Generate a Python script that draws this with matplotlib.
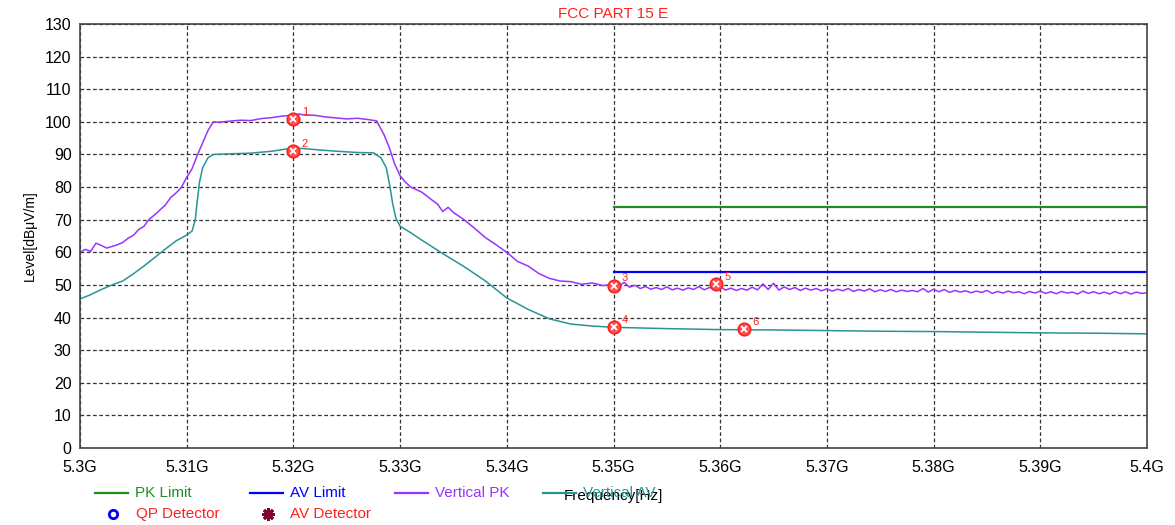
import matplotlib
matplotlib.use("Agg")
import matplotlib.pyplot as plt
import numpy as np
from matplotlib.lines import Line2D

plt.rcParams['font.family'] = ['Liberation Sans', 'DejaVu Sans']

############################ data ############################
pk_freq = [5.3000, 5.3005, 5.3010, 5.3015, 5.3020, 5.3025, 5.3030, 5.3035, 5.3040, 5.3045,
           5.3050, 5.3055, 5.3060, 5.3065, 5.3070, 5.3075, 5.3080, 5.3085, 5.3090, 5.3095,
           5.3100, 5.3105, 5.3110, 5.3115, 5.3120, 5.3125, 5.3130, 5.3140, 5.3150, 5.3160,
           5.3170, 5.3180, 5.3190, 5.3200, 5.3205, 5.3210, 5.3220, 5.3230, 5.3240, 5.3250,
           5.3260, 5.3270, 5.3278, 5.3285, 5.3290, 5.3295, 5.3300, 5.3305, 5.3310, 5.3320,
           5.3330, 5.3335, 5.3340, 5.3345, 5.3350, 5.3360, 5.3370, 5.3380, 5.3390, 5.3400,
           5.3410, 5.3420, 5.3430, 5.3440, 5.3450, 5.3460, 5.3470, 5.3480, 5.3490]
pk_level = [60.0, 60.9, 60.3, 62.8, 62.1, 61.3, 61.8, 62.3, 63.0, 64.3,
            65.2, 67.0, 68.0, 70.2, 71.5, 73.0, 74.5, 76.8, 78.2, 79.9,
            83.0, 85.6, 89.8, 93.6, 97.4, 100.0, 99.9, 100.2, 100.5, 100.4,
            101.0, 101.3, 101.8, 102.0, 102.4, 102.1, 102.0, 101.5, 101.2, 100.9,
            101.1, 100.7, 100.3, 96.0, 92.0, 87.0, 83.5, 81.5, 80.0, 78.5,
            76.0, 74.8, 72.5, 73.8, 72.2, 70.0, 67.3, 64.5, 62.3, 60.0,
            57.2, 55.8, 53.5, 52.0, 51.2, 51.0, 50.2, 50.6, 49.8]

# noisy tail 5.35G .. 5.40G, 0.5 MHz steps
pk_tail = [50.2, 49.6, 50.8, 49.3, 49.9, 48.9, 49.5, 48.7, 49.2, 48.6,
           49.4, 48.5, 49.0, 48.4, 49.1, 48.6, 49.5, 48.5, 49.2, 48.8,
           49.6, 48.4, 49.0, 48.3, 48.9, 48.4, 49.3, 48.5, 50.3, 48.6,
           50.5, 48.4, 49.4, 48.6, 49.2, 48.3, 49.0, 48.4, 48.9, 48.2,
           48.8, 48.1, 48.7, 48.2, 48.9, 48.0, 48.6, 48.1, 48.8, 47.9,
           48.5, 48.0, 48.6, 47.9, 48.4, 48.0, 48.3, 47.9, 48.9, 47.8,
           48.7, 47.9, 48.6, 47.7, 48.3, 47.8, 48.2, 47.6, 48.1, 47.7,
           48.3, 47.4, 48.0, 47.5, 48.1, 47.6, 47.9, 47.3, 48.0, 47.5,
           48.1, 47.4, 47.9, 47.3, 48.0, 47.5, 47.8, 47.2, 48.1, 47.4,
           47.9, 47.3, 47.8, 47.2, 48.0, 47.3, 47.9, 47.2, 47.8, 47.4, 47.6]

av_freq = [5.3000, 5.3010, 5.3020, 5.3030, 5.3040, 5.3050, 5.3060, 5.3070, 5.3080, 5.3090,
           5.3100, 5.3105, 5.3108, 5.3110, 5.3112, 5.3115, 5.3120, 5.3125, 5.3140, 5.3160,
           5.3180, 5.3200, 5.3210, 5.3220, 5.3240, 5.3260, 5.3275, 5.3282, 5.3287, 5.3290,
           5.3293, 5.3296, 5.3300, 5.3310, 5.3320, 5.3340, 5.3360, 5.3380, 5.3400, 5.3420,
           5.3440, 5.3460, 5.3480, 5.3500, 5.3550, 5.3600, 5.3650, 5.3700, 5.3750, 5.3800,
           5.3850, 5.3900, 5.3950, 5.4000]
av_level = [45.7, 47.0, 48.6, 50.0, 51.2, 53.4, 55.8, 58.4, 61.0, 63.5,
            65.3, 66.5, 70.0, 76.0, 81.5, 86.0, 89.0, 90.0, 90.2, 90.4,
            91.0, 92.0, 91.8, 91.5, 91.0, 90.6, 90.5, 89.0, 86.0, 81.0,
            75.0, 70.5, 68.0, 66.0, 63.8, 59.6, 55.6, 51.2, 46.0, 42.5,
            39.6, 38.0, 37.4, 37.0, 36.6, 36.3, 36.2, 36.0, 35.8, 35.7,
            35.5, 35.3, 35.2, 35.0]

limit_freq = [5.35, 5.40]
pk_limit = [74, 74]
av_limit = [54, 54]

mk_freq = [5.3200, 5.3200, 5.3500, 5.3500, 5.3596, 5.3622]
mk_level = [100.9, 91.0, 49.8, 37.0, 50.2, 36.4]
mk_label = ['1', '2', '3', '4', '5', '6']

xticks = [5.30, 5.31, 5.32, 5.33, 5.34, 5.35, 5.36, 5.37, 5.38, 5.39, 5.40]
xticklabels = ['5.3G', '5.31G', '5.32G', '5.33G', '5.34G', '5.35G',
               '5.36G', '5.37G', '5.38G', '5.39G', '5.4G']
yticks = list(range(0, 131, 10))

c_pk = '#9933ff'
c_av = '#2a9494'
c_pkl = '#1f8f1f'
c_avl = '#0000ff'
c_red = '#ff2020'

################################ figure ################################
fig = plt.figure(figsize=(11.75, 5.25), dpi=100)
ax = fig.add_axes([80/1175, 1-448/525, (1147-80)/1175, (448-24)/525])

pk_x = pk_freq + list(np.linspace(5.35, 5.40, len(pk_tail)))
pk_y = pk_level + pk_tail

ax.plot(limit_freq, pk_limit, color=c_pkl, lw=1.6)
ax.plot(limit_freq, av_limit, color=c_avl, lw=1.6)
ax.plot(pk_x, pk_y, color=c_pk, lw=1.1)
ax.plot(av_freq, av_level, color=c_av, lw=1.1)

ax.plot(mk_freq, mk_level, 'o', ms=9, mfc='#ff5050', mec=c_red, mew=1.2, ls='none')
ax.plot(mk_freq, mk_level, 'x', ms=5, mec='white', mew=1.3, ls='none')
for f, l, s in zip(mk_freq, mk_level, mk_label):
    ax.annotate(s, (f, l), xytext=(6, 3), textcoords='offset points',
                color=c_red, fontsize=8)

ax.set_xlim(5.30, 5.40)
ax.set_ylim(0, 130)
ax.set_xticks(xticks)
ax.set_xticklabels(xticklabels)
ax.set_yticks(yticks)
ax.tick_params(labelsize=11.5, length=0)
ax.tick_params(axis='x', pad=9)
ax.tick_params(axis='y', pad=6)
ax.grid(True, color='#333333', ls=(0, (3, 2)), lw=0.9)
for sp in ax.spines.values():
    sp.set_color('#444444')
    sp.set_linewidth(1.2)

ax.set_title('FCC PART 15 E', color=c_red, fontsize=11, pad=4)
ax.set_ylabel('Level[dBμV/m]', fontsize=10, labelpad=6)
ax.set_xlabel('Frequency[Hz]', fontsize=11, labelpad=10)

############################ hand-placed legend ############################
def fx(px):
    return px / 1175.0

def fy(py):
    return 1 - py / 525.0

row1 = [(95, 'PK Limit', c_pkl), (250, 'AV Limit', c_avl),
        (395, 'Vertical PK', c_pk), (543, 'Vertical AV', c_av)]
for x0, txt, col in row1:
    fig.add_artist(Line2D([fx(x0), fx(x0 + 33)], [fy(493), fy(493)], color=col, lw=1.6))
    fig.text(fx(x0 + 40), fy(493), txt, color=col, fontsize=11, va='center')

fig.add_artist(Line2D([fx(113)], [fy(514)], marker='o', ms=6, mfc='none', mec='#0000ee',
                      mew=2, ls='none'))
fig.text(fx(136), fy(514), 'QP Detector', color=c_red, fontsize=11, va='center')
fig.add_artist(Line2D([fx(268)], [fy(514)], marker=(8, 2, 0), ms=9, mec='#800030',
                      mew=2, ls='none'))
fig.text(fx(290), fy(514), 'AV Detector', color=c_red, fontsize=11, va='center')

fig.savefig('out.png', dpi=100)
